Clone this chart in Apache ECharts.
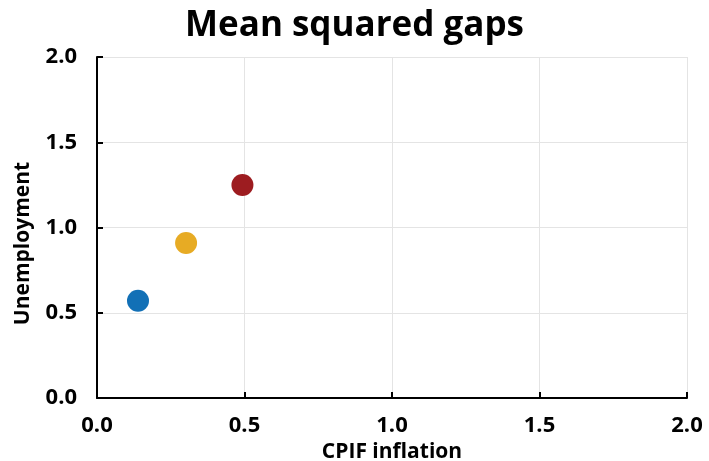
<!DOCTYPE html>
<html><head><meta charset="utf-8">
<script src="https://cdn.jsdelivr.net/npm/echarts@6/dist/echarts.min.js"></script>
<style>html,body{margin:0;padding:0;background:#fff}#c{width:709px;height:461px}</style>
</head><body><div id="c"></div>
<script>
const titleText = "Mean squared gaps";
const xName = "CPIF inflation";
const yName = "Unemployment";
const xValues = [0.139, 0.302, 0.493];
const yValues = [0.570, 0.909, 1.249];
const colors = ["#1270b6", "#e7ab24", "#9d1c20"];
const FONT = "Open Sans";
const chart = echarts.init(document.getElementById('c'));
const axisCommon = {
  type: 'value', min: 0, max: 2, interval: 0.5,
  axisLine: {show: true, onZero: false, lineStyle: {color: '#000', width: 2}},
  axisTick: {show: true, inside: true, length: 6, lineStyle: {color: '#000', width: 2}},
  splitLine: {show: true, lineStyle: {color: '#e4e4e4', width: 1}},
  axisLabel: {color: '#000', fontFamily: FONT, fontWeight: 'bold', fontSize: 22, formatter: v => v.toFixed(1)},
  nameTextStyle: {color: '#000', fontFamily: FONT, fontWeight: 'bold', fontSize: 21}
};
chart.setOption({
  animation: false,
  title: {text: titleText, left: 'center', top: 4, textStyle: {fontFamily: FONT, fontWeight: 'bold', fontSize: 35, color: '#000'}},
  grid: {left: 97, right: 22, top: 57, bottom: 63, containLabel: false, outerBoundsMode: 'none'},
  xAxis: Object.assign({}, axisCommon, {name: xName, nameLocation: 'middle', nameGap: 44, axisLabel: Object.assign({}, axisCommon.axisLabel, {margin: 17})}),
  yAxis: Object.assign({}, axisCommon, {name: yName, nameLocation: 'middle', nameGap: 63,
    nameTextStyle: Object.assign({}, axisCommon.nameTextStyle, {padding: [0, 32, 0, 0]}),
    axisLabel: Object.assign({}, axisCommon.axisLabel, {margin: 20})}),
  series: [{
    type: 'scatter', symbolSize: 22,
    itemStyle: {opacity: 1},
    data: xValues.map((x, i) => ({value: [x, yValues[i]], itemStyle: {color: colors[i], opacity: 1}}))
  }]
});
</script></body></html>
